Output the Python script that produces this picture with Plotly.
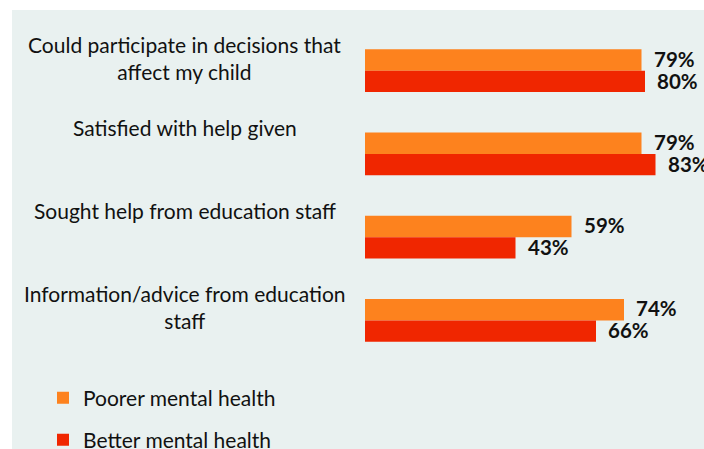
import plotly.graph_objects as go

categories = ["Could participate in decisions that<br>affect my child",
              "Satisfied with help given",
              "Sought help from education staff",
              "Information/advice from education<br>staff"]
cat_keys = ["c1", "c2", "c3", "c4"]
series_names = ["Poorer mental health", "Better mental health"]
poorer = [79, 79, 59, 74]
better = [80, 83, 43, 66]
colors = ["#FD821E", "#F02600"]
BG = "#E9F1F0"

W, H = 704, 449
L, R, T, B = 365, 0, 29, 87
pw, ph = W - L - R, H - T - B
px_per_pct = 3.5
xmax = pw / px_per_pct
font_family = "Lato"

fig = go.Figure()
legend_ids = ["legend", "legend2"]
for name, vals, col, lg in zip(series_names, [poorer, better], colors, legend_ids):
    fig.add_trace(go.Bar(
        name=name, y=cat_keys, x=vals, orientation="h",
        marker=dict(color=col, line=dict(width=0)),
        legend=lg, hoverinfo="skip"))

annotations = []
# value labels
for i, vals in enumerate([poorer, better]):
    shift = -11 if i == 0 else 11
    for k, v in zip(cat_keys, vals):
        annotations.append(dict(
            x=v, y=k, xref="x", yref="y", text=f"<b>{v}%</b>",
            showarrow=False, xanchor="left", yanchor="middle",
            xshift=10, yshift=-shift + 1,
            font=dict(family=font_family, size=20.5, color="#111111")))
# category labels
for k, c in zip(cat_keys, categories):
    annotations.append(dict(
        x=(185 - L) / pw, xref="paper", y=k, yref="y", text=c,
        showarrow=False, xanchor="center", yanchor="top", align="center",
        yshift=41,
        font=dict(family=font_family, size=21, color="#111111")))

def legend_at(py):
    return dict(orientation="v", x=(43 - L) / pw, xanchor="left",
                y=(T + ph - py) / ph, yanchor="middle",
                bgcolor="rgba(0,0,0,0)",
                font=dict(family=font_family, size=21, color="#111111"))

fig.update_layout(
    width=W, height=H,
    margin=dict(l=L, r=R, t=T, b=B, pad=0, autoexpand=False),
    paper_bgcolor="white", plot_bgcolor=BG,
    barmode="group", bargap=0.484, bargroupgap=0,
    xaxis=dict(range=[0, xmax], visible=False, fixedrange=True),
    yaxis=dict(categoryorder="array", categoryarray=cat_keys,
               autorange="reversed", visible=False, fixedrange=True),
    showlegend=True,
    legend=legend_at(398),
    legend2=legend_at(440),
    annotations=annotations,
    shapes=[dict(type="rect", xref="paper", yref="paper", layer="below",
                 x0=(12 - L) / pw, x1=1.1, y0=-0.4, y1=1 + (T - 10) / ph,
                 fillcolor=BG, line=dict(width=0))],
)

fig.write_html("out.html", config={"displayModeBar": False},
               post_script="document.body.style.margin='0';")
